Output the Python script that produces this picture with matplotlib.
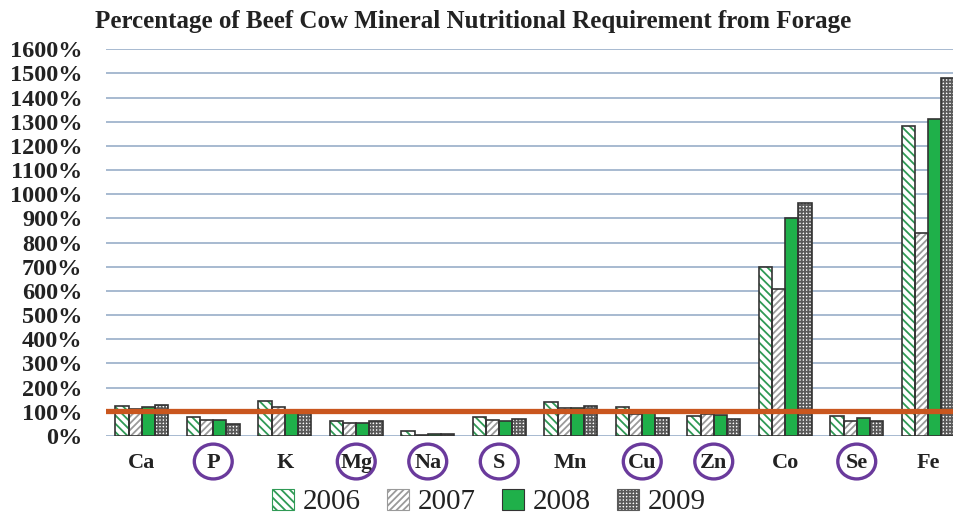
import matplotlib
matplotlib.use("Agg")
import matplotlib.pyplot as plt
import numpy as np
from matplotlib.patches import Ellipse, Patch
from matplotlib.ticker import FuncFormatter
import matplotlib.transforms as mtransforms

# data
minerals = ['Ca', 'P', 'K', 'Mg', 'Na', 'S', 'Mn', 'Cu', 'Zn', 'Co', 'Se', 'Fe']
circled = ['P', 'Mg', 'Na', 'S', 'Cu', 'Zn', 'Se']
years = ['2006', '2007', '2008', '2009']
v2006 = [126, 79, 144, 64, 20, 79, 140, 120, 82, 700, 83, 1281]
v2007 = [110, 65, 118, 54, 5, 65, 114, 90, 93, 609, 61, 841]
v2008 = [118, 68, 102, 54, 8, 64, 114, 95, 88, 902, 76, 1311]
v2009 = [128, 49, 102, 64, 7, 72, 124, 76, 72, 964, 64, 1480]
requirement = 105
yticks = list(range(0, 1700, 100))

plt.rcParams['font.family'] = ['Liberation Serif', 'DejaVu Serif']
plt.rcParams['hatch.linewidth'] = 1.3

fig = plt.figure(figsize=(9.54, 5.19), dpi=100)
ax = fig.add_axes([106 / 954, 83 / 519, 858 / 954, 386.7 / 519])

x = np.arange(len(minerals))
w = 0.185
edge = '#333333'
styles = [
    dict(face='white', hcol='#2f9a55', hatch='\\\\\\\\'),
    dict(face='white', hcol='#9a9a9a', hatch='/////'),
    dict(face='#1fb04a', hcol=None, hatch=None),
    dict(face='white', hcol='#5a5a5a', hatch='+++++'),
]
series = [v2006, v2007, v2008, v2009]
handles = []
for i, (vals, st) in enumerate(zip(series, styles)):
    pos = x + (i - 1.5) * w
    if st['hatch']:
        ax.bar(pos, vals, w, color=st['face'], edgecolor=st['hcol'],
               hatch=st['hatch'], linewidth=0, zorder=2)
    else:
        ax.bar(pos, vals, w, color=st['face'], linewidth=0, zorder=2)
    ax.bar(pos, vals, w, fill=False, edgecolor=edge, linewidth=1.2, zorder=3)
    h = Patch(facecolor=st['face'], edgecolor=st['hcol'] or edge,
              hatch=st['hatch'], linewidth=0.8)
    handles.append(h)

ax.axhline(requirement, color='#c9561e', linewidth=3.8, zorder=4)

ax.set_ylim(0, 1600)
ax.set_xlim(-0.5, len(minerals) - 0.5)
ax.set_yticks(yticks)
ax.yaxis.set_major_formatter(FuncFormatter(lambda v, p: '%d%%' % v))
ax.grid(axis='y', color='#a7bad0', linewidth=1.4, zorder=0)
ax.set_axisbelow(True)
for s in ax.spines.values():
    s.set_visible(False)
ax.tick_params(axis='y', length=0, pad=17, labelsize=17.5)
for t in ax.get_yticklabels():
    t.set_fontweight('bold')
    t.set_color('#222222')
ax.set_xticks(x)
ax.set_xticklabels(minerals, fontsize=16, fontweight='bold', color='#222222')
ax.tick_params(axis='x', length=0, pad=12)

# purple circles round some labels
trans = mtransforms.blended_transform_factory(ax.transData, ax.transAxes)
for i, m in enumerate(minerals):
    if m in circled:
        e = Ellipse((i, -0.066), 0.53, 0.09, transform=trans, fill=False,
                    edgecolor='#6a3a9c', linewidth=2.4, clip_on=False)
        ax.add_patch(e)

fig.text(95 / 954, 1 - 22 / 519, 'Percentage of Beef Cow Mineral Nutritional Requirement from Forage',
         fontsize=18, fontweight='bold', color='#222222', va='center', ha='left')

fig.legend(handles, years, loc='center', bbox_to_anchor=(489 / 954, 1 - 502 / 519),
           ncol=4, frameon=False, fontsize=21, handlelength=0.75, handleheight=0.75,
           handletextpad=0.3, columnspacing=0.9, labelcolor='#222222')

fig.savefig('out.png', dpi=100, facecolor='white')
